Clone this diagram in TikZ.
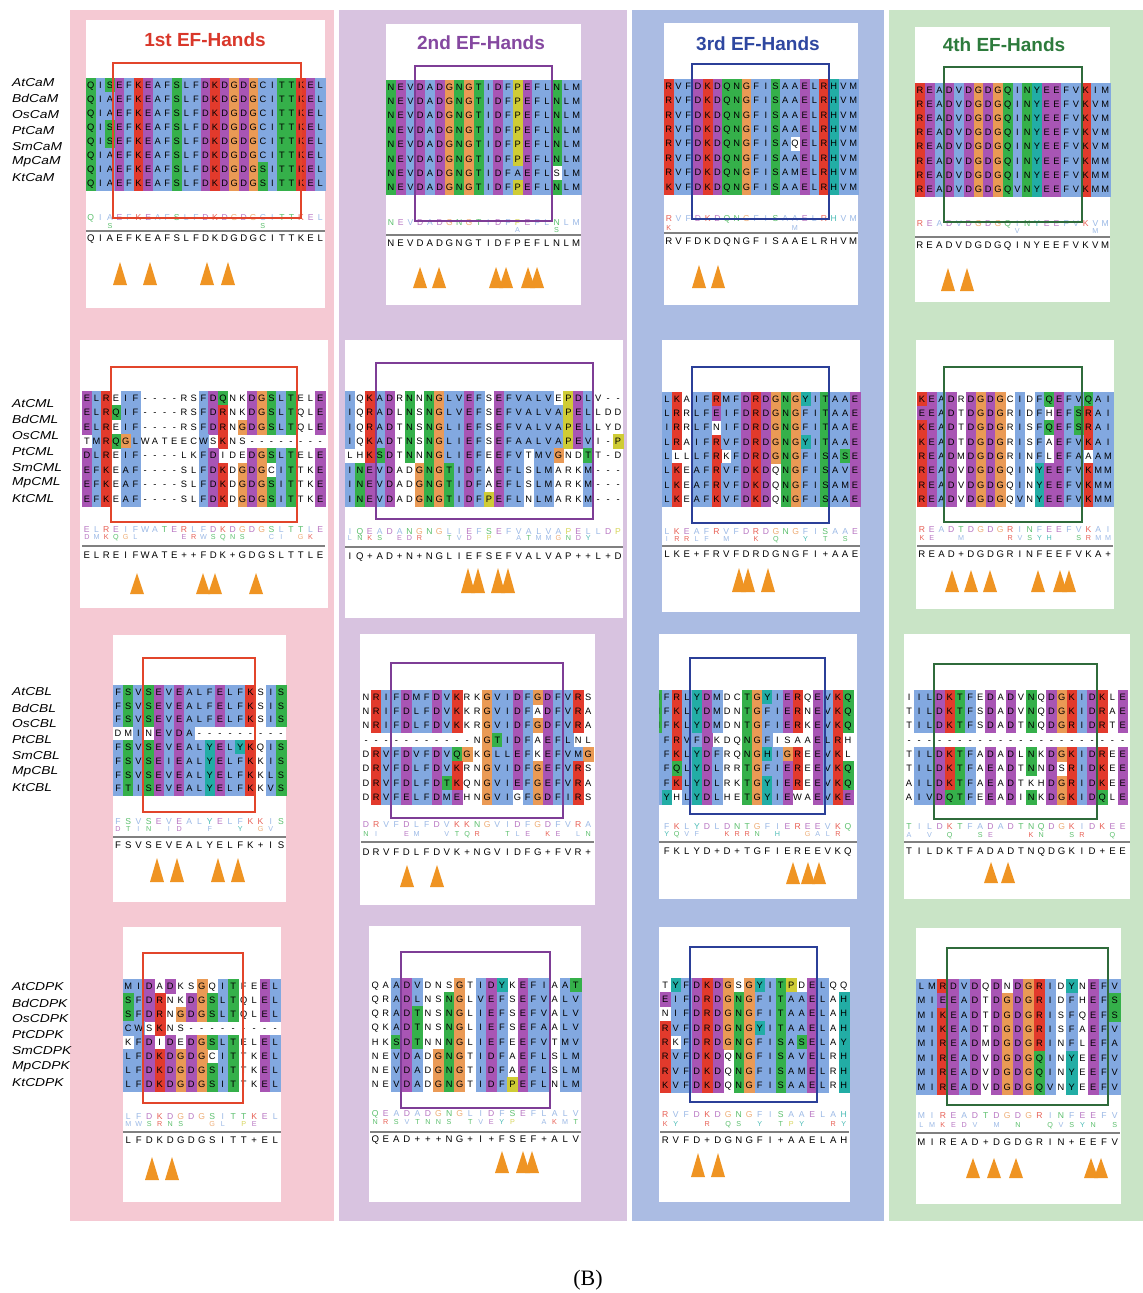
\documentclass[tikz,border=0pt]{standalone}
\usepackage{fontspec}
\setmainfont{Liberation Sans}
\newfontfamily\capfont{Liberation Serif}
\definecolor{cblue}{HTML}{82A8E0}
\definecolor{cred}{HTML}{E23A2C}
\definecolor{cmag}{HTML}{A855B4}
\definecolor{cgreen}{HTML}{35B04A}
\definecolor{corange}{HTML}{EA9A55}
\definecolor{cyellow}{HTML}{CFCC35}
\definecolor{ccyan}{HTML}{22ADA5}
\definecolor{bgpink}{HTML}{F5C9D3}
\definecolor{bgpurple}{HTML}{D8C3E0}
\definecolor{bgblue}{HTML}{ABBCE3}
\definecolor{bggreen}{HTML}{C9E4C6}
\definecolor{fred}{HTML}{E2452B}
\definecolor{fpurple}{HTML}{7E3D96}
\definecolor{fblue}{HTML}{2B3F98}
\definecolor{fgreen}{HTML}{2F6B3B}
\definecolor{tred}{HTML}{D9372A}
\definecolor{tpurple}{HTML}{8548A0}
\definecolor{tblue}{HTML}{2E47A0}
\definecolor{tgreen}{HTML}{2D7B3C}
\definecolor{ctri}{HTML}{EF9423}

\newcount\ci
\def\dotchar{.}
\def\setrc#1#2{\expandafter\def\csname rc#1\endcsname{#2}}
\setrc A{cblue}\setrc I{cblue}\setrc L{cblue}\setrc M{cblue}\setrc F{cblue}
\setrc V{cblue}\setrc W{cblue}\setrc C{cblue}
\setrc K{cred}\setrc R{cred}
\setrc D{cmag}\setrc E{cmag}
\setrc N{cgreen}\setrc Q{cgreen}\setrc S{cgreen}\setrc T{cgreen}
\setrc G{corange}\setrc P{cyellow}\setrc H{ccyan}\setrc Y{ccyan}

\def\seqloop#1{\ifx#1\relax\else\cellaction#1\advance\ci by 1 \expandafter\seqloop\fi}
\def\onecell#1{%
  \ifnum`#1>`Z\relax
    \uppercase{\def\ch{#1}}\let\cf\empty
  \else
    \def\ch{#1}%
    \ifcsname rc#1\endcsname\edef\cf{\csname rc#1\endcsname}\else\let\cf\empty\fi
  \fi
  \ifx\cf\empty\else
    \fill[fill=\cf] ({\sx+\the\ci*\CW},{\sy-0.5*\RH}) rectangle ++({\CW+0.5},{\RH+0.5});%
  \fi
  \node[res] at ({\sx+(\the\ci+0.5)*\CW},{\sy+3.3}) {\ch};%
}
\def\onelogo#1{%
  \ifx#1.\else
    \ifcsname rc#1\endcsname\edef\cf{\csname rc#1\endcsname}\else\def\cf{black}\fi
    \node[inner sep=0pt,anchor=base,text=\cf!80,font=\lfont] at ({\sx+(\the\ci+0.5)*\CW},{\sy+2.8}) {#1};%
  \fi}
\def\onecons#1{%
  \ifx#1.\else
    \node[cons] at ({\sx+(\the\ci+0.5)*\CW},{\sy+3.4}) {#1};%
  \fi}
\newcommand\seqrow[3]{\let\cellaction\onecell\def\sx{#1}\def\sy{#2}\ci=0 \expandafter\seqloop#3\relax}
\newcommand\seqblock[3]{\foreach \s [count=\k from 0] in {#3} {\seqrow{#1}{#2+\k*\RH}{\s}}}
\newcommand\logorow[4]{\let\cellaction\onelogo\def\lfont{#4}\def\sx{#1}\def\sy{#2}\ci=0 \expandafter\seqloop#3\relax}
\newcommand\consrow[3]{\let\cellaction\onecons\def\sx{#1}\def\sy{#2}\ci=0 \expandafter\seqloop#3\relax}
\newcommand\logos[5]{% x0, ytop, top, ybottom, bottom
  \logorow{#1}{#2}{#3}{\fontsize{8.6}{9}\selectfont}%
  \logorow{#1}{#4}{#5}{\fontsize{7.2}{8}\selectfont}}
\newcommand\tri[3]{\fill[ctri] ({#1-7},#3) -- (#1,#2) -- ({#1+7},#3) -- cycle;}

\tikzset{
  res/.style={inner sep=0pt,anchor=base,text=black,font=\fontsize{9.3}{10}\selectfont},
  cons/.style={inner sep=0pt,anchor=base,text=black,font=\fontsize{9.6}{10}\selectfont},
  lab/.style={anchor=west,inner sep=0pt,xscale=1.2,font=\fontsize{11.5}{12}\selectfont\itshape},
  ttl/.style={inner sep=0pt,font=\fontsize{19}{21}\selectfont\bfseries},
  rulel/.style={draw=black!50,line width=1.8pt},
  wbox/.style={fill=white},
  frame/.style={line width=1.6pt},
}

\begin{document}
\begin{tikzpicture}[x=1pt,y=-1pt]
\useasboundingbox (0,0) rectangle (1143,1293);
\fill[white] (0,0) rectangle (1143,1293);
% column backgrounds
\fill[bgpink] (70,10) rectangle (334,1221);
\fill[bgpurple] (339,10) rectangle (627,1221);
\fill[bgblue] (632,10) rectangle (884,1221);
\fill[bggreen] (889,10) rectangle (1143,1221);

% row labels
\foreach \n [count=\k from 0] in {AtCaM,BdCaM,OsCaM,PtCaM,SmCaM,MpCaM,KtCaM}
  \node[lab] (l1\k) at (12,{83+\k*15.8}) {\n};
\foreach \n [count=\k from 0] in {AtCML,BdCML,OsCML,PtCML,SmCML,MpCML,KtCML}
  \node[lab] (l2\k) at (12,{404+\k*15.8}) {\n};
\foreach \n [count=\k from 0] in {AtCBL,BdCBL,OsCBL,PtCBL,SmCBL,MpCBL,KtCBL}
  \node[lab] (l3\k) at (12,{692+\k*16}) {\n};
\foreach \n [count=\k from 0] in {AtCDPK,BdCDPK,OsCDPK,PtCDPK,SmCDPK,MpCDPK,KtCDPK}
  \node[lab] (l4\k) at (12,{987+\k*16}) {\n};

%%%%%%%%%%%%%%%% ROW 1
% R1C1
\fill[wbox] (86,20) rectangle (325,308);
\node[ttl,text=tred] (t1) at (205,40) {1st EF-Hands};
\def\CW{9.56}\def\RH{14.04}
\seqblock{86}{85}{QISEFKEAFSLFDKDGDGCITTKEL,QIAEFKEAFSLFDKDGDGCITTKEL,QIAEFKEAFSLFDKDGDGCITTKEL,QISEFKEAFSLFDKDGDGCITTKEL,QISEFKEAFSLFDKDGDGCITTKEL,QIAEFKEAFSLFDKDGDGCITTKEL,QIAEFKEAFSLFDKDGDGSITTKEL,QIAEFKEAFSLFDKDGDGSITTKEL}
\logos{86}{218}{QIAEFKEAFSLFDKDGDGCITTKEL}{226}{..S...............S......}
\draw[rulel] (86,231) -- (325,231);
\consrow{86}{238}{QIAEFKEAFSLFDKDGDGCITTKEL}
\draw[frame,fred] (113,63) rectangle (301,218);
\tri{120}{262}{285}\tri{150}{262}{285}\tri{207}{262}{285}\tri{228}{262}{285}

% R1C2
\fill[wbox] (386,24) rectangle (581,305);
\node[ttl,text=tpurple] (t2) at (481,43) {2nd EF-Hands};
\def\CW{9.75}\def\RH{14.4}
\seqblock{386}{86.7}{NEVDADGNGTIDFPEFLNLM,NEVDADGNGTIDFPEFLNLM,NEVDADGNGTIDFPEFLNLM,NEVDADGNGTIDFPEFLNLM,NEVDADGNGTIDFPEFLNLM,NEVDADGNGTIDFPEFLNLM,NEVDADGNGTIDFAEFLsLM,NEVDADGNGTIDFPEFLNLM}
\logos{386}{223}{NEVDADGNGTIDFPEFLNLM}{230}{.............A...S..}
\draw[rulel] (386,235) -- (581,235);
\consrow{386}{243}{NEVDADGNGTIDFPEFLNLM}
\draw[frame,fpurple] (415,66) rectangle (552,221);
\tri{420}{267}{288}\tri{439}{267}{288}\tri{496}{267}{288}\tri{506}{267}{288}\tri{528}{267}{288}\tri{537}{267}{288}

% R1C3
\fill[wbox] (664,23) rectangle (858,305);
\node[ttl,text=tblue] (t3) at (758,44) {3rd EF-Hands};
\def\CW{9.7}\def\RH{14.4}
\seqblock{664}{86}{RVFDKDQNGFISAAELRHVM,RVFDKDQNGFISAAELRHVM,RVFDKDQNGFISAAELRHVM,RVFDKDQNGFISAAELRHVM,RVFDKDQNGFISAqELRHVM,RVFDKDQNGFISAAELRHVM,RVFDKDQNGFISAMELRHVM,KVFDKDQNGFISAAELRHVM}
\logos{664}{219}{RVFDKDQNGFISAAELRHVM}{228}{K............M......}
\draw[rulel] (664,233) -- (858,233);
\consrow{664}{241}{RVFDKDQNGFISAAELRHVM}
\draw[frame,fblue] (692,64) rectangle (829,219);
\tri{699}{265}{288}\tri{718}{265}{288}

% R1C4
\fill[wbox] (915,27) rectangle (1110,302);
\node[ttl,text=tgreen] (t4) at (1004,45) {4th EF-Hands};
\def\CW{9.75}\def\RH{14.14}
\seqblock{915}{90}{READVDGDGQINYEEFVKIM,READVDGDGQINYEEFVKVM,READVDGDGQINYEEFVKVM,READVDGDGQINYEEFVKVM,READVDGDGQINYEEFVKVM,READVDGDGQINYEEFVKMM,READVDGDGQINYEEFVKMM,READVDGDGQVNYEEFVKMM}
\logos{915}{224}{READVDGDGQINYEEFVKVM}{231}{..........V.......M.}
\draw[rulel] (915,237) -- (1110,237);
\consrow{915}{245}{READVDGDGQINYEEFVKVM}
\draw[frame,fgreen] (944,67) rectangle (1082,222);
\tri{948}{268}{291}\tri{967}{268}{291}

%%%%%%%%%%%%%%%% ROW 2
% R2C1
\fill[wbox] (80,340) rectangle (328,608);
\def\CW{9.72}\def\RH{14.4}
\seqblock{82}{398}{ELReIF----rsFDQnkDGSLTelE,ELRQIF----rsFDRnkDGSLTqlE,ELReIF----rsFDRnGDGSLTqlE,tMRQGLwateecWsKns--------,DLReIF----lkFDideDGSLTelE,EFKeAF----slFDKdGDGcITtkE,EFKeAF----slFDKdGDGSITtkE,EFKeAF----slFDKdGDGSITtkE}
\logos{82}{530}{ELREIFWATERLFDKDGDGSLTTLE}{537}{DMKQGL....ERWSQNS..CI.GK.}
\draw[rulel] (82,546) -- (325,546);
\consrow{82}{555}{ELREIFWATE++FDK+GDGSLTTLE}
\draw[frame,fred] (111,367) rectangle (297,522);
\tri{137}{573}{594}\tri{203}{573}{594}\tri{215}{573}{594}\tri{256}{573}{594}

% R2C2
\fill[wbox] (345,340) rectangle (623,618);
\def\CW{9.93}\def\RH{14.4}
\seqblock{345}{398}{IqKADrNnNGLVEFsEFVALVePDLv--,IqRADlNsNGLVEFsEFVALVAPELldd,IqRADtNsNGLIEFsEFVALVAPELlyd,IqKADtNsNGLIEFsEFAALVAPEVi-P,lhKSDtNnNGLIEFeEFVtMVGndTt-d,INEVDadGNGTIDFaEFLsLMarkM---,INEVDadGNGTIDFaEFLsLMarkM---,INEVDadGNGTIDFPEFLnLMarkM---}
\logos{345}{532}{IQEADANGNGLIEFSEFVALVAPELLDP}{538}{LNKS.EDR..TVD.P..ATMMGNDY...}
\draw[rulel] (345,547) -- (623,547);
\consrow{345}{556}{IQ+AD+N+NGLIEFSEFVALVAP++L+D}
\draw[frame,fpurple] (376,363) rectangle (593,519);
\tri{468}{568}{593}\tri{478}{568}{593}\tri{498}{568}{593}\tri{508}{568}{593}

% R2C3
\fill[wbox] (662,340) rectangle (860,612);
\def\CW{9.9}\def\RH{14.3}
\seqblock{662}{399}{LKaIFRMFDRDGNGYITAAE,LRrLFEIFDRDGNGFITAAE,IRrLFnIFDRDGNGFITAAE,LRaIFRVFDRDGNGYITAAE,LllLFRkFDRDGNGFISASE,LKeAFRVFDKDqNGFISAVE,LKeAFRVFDKDqNGFISAME,LKeAFKVFDKDqNGFISAAE}
\logos{662}{532}{LKEAFRVFDRDGNGFISAAE}{539}{IRRLF.M..K.Q..Y.T.S.}
\draw[rulel] (662,546) -- (860,546);
\consrow{662}{554}{LKE+FRVFDRDGNGFI+AAE}
\draw[frame,fblue] (692,367) rectangle (829,523);
\tri{739}{568}{592}\tri{748}{568}{592}\tri{768}{568}{592}

% R2C4
\fill[wbox] (916,340) rectangle (1114,609);
\def\CW{9.8}\def\RH{14.3}
\seqblock{917}{399}{KEADrDGDGcIdFQEFVQAI,EEADtDGDGrIdFhEFSRAI,KEADtDGDGrIsFQEFSRAI,KEADtDGDGrIsFaEFVKAI,READmDGDGrInFlEFAaAM,READvDGDGqInYEEFVKMM,READvDGDGqInYEEFVKMM,READvDGDGqVnYEEFVKMM}
\logos{917}{530}{READTDGDGRINFEEFVKAI}{538}{KE..M....RVSYH..SRMM}
\draw[rulel] (917,546) -- (1113,546);
\consrow{917}{554}{READ+DGDGRINFEEFVKA+}
\draw[frame,fgreen] (944,367) rectangle (1082,522);
\tri{952}{570}{592}\tri{971}{570}{592}\tri{990}{570}{592}\tri{1038}{570}{592}\tri{1060}{570}{592}\tri{1069}{570}{592}

%%%%%%%%%%%%%%%% ROW 3
% R3C1
\fill[wbox] (113,635) rectangle (286,902);
\def\CW{10.18}\def\RH{13.8}
\seqblock{113}{692}{FSVSEVEALFELFKsIS,FSVSEVEALFELFKsIS,FSVSEVEALFELFKsIS,dmInEVDA---------,FSVSEVEALYELYKqIS,FSVSEIEALYELFKkIS,FSVSEVEALYELFKkLS,FTISEVEALYELFKkVS}
\logos{113}{822}{FSVSEVEALYELFKKIS}{829}{DTIN.ID..F..Y.GV.}
\draw[rulel] (113,837) -- (286,837);
\consrow{113}{845}{FSVSEVEALYELFK+IS}
\draw[frame,fred] (143,658) rectangle (255,812);
\tri{157}{858}{882}\tri{177}{858}{882}\tri{218}{858}{882}\tri{238}{858}{882}

% R3C2
\fill[wbox] (360,634) rectangle (595,905);
\def\CW{10.1}\def\RH{14.3}
\seqblock{361}{697}{nRIFDMFDVKrkGVIDFGDFVRs,nRIFDLFDVKkrGVIDFaDFVRa,nRIFDLFDVKkrGVIDFGDFVRa,-----------nGTIDFaEFLnl,dRVFDVFDVQGkGLLEFkEFVMG,dRVFDLFDVKrnGVIDFGEFVRs,dRVFDLFDTKqnGVIEFGEFVRa,dRVFELFDMEhnGVIgFGDFIRs}
\logos{361}{825}{DRVFDLFDVKKNGVIDFGDFVRA}{834}{NI..EM..VTQR..TLE.KE.LN}
\draw[rulel] (361,842) -- (594,842);
\consrow{361}{852}{DRVFDLFDVK+NGVIDFG+FVR+}
\draw[frame,fpurple] (391,663) rectangle (563,818);
\tri{407}{865}{887}\tri{437}{865}{887}

% R3C3
\fill[wbox] (659,634) rectangle (857,899);
\begin{scope}
\clip (659,634) rectangle (857,899);
\def\CW{10.07}\def\RH{14.3}
\seqblock{651.6}{697}{NFRLYDMdcTGYIERqEVKQ,NFKLYDMdnTGFIERnEVKQ,NFKLYDMdnTGFIERkEVKQ,LFRVFDkdqNGFisaaELRh,LFKLYDFrqNGHIGReEVKl,LFQLYDLrrTGFIEReEVKQ,LFKLYDLrkTGYIEReEVKQ,LYhLYDLheTGYIEwaEVKE}
\logos{651.6}{827}{.FKLYDLDNTGFIEREEVKQ}{834}{.YQVF..KRRN.H..GALR.}
\draw[rulel] (659,842) -- (857,842);
\consrow{651.6}{851}{.FKLYD+D+TGFIEREEVKQ}
\end{scope}
\draw[frame,fblue] (690,658) rectangle (825,814);
\tri{793}{862}{884}\tri{808}{862}{884}\tri{819}{862}{884}

% R3C4
\fill[wbox] (904,634) rectangle (1130,899);
\def\CW{10.17}\def\RH{14.3}
\seqblock{904}{697}{iILDKTFeDaDvNqDGKIDKlE,tILDKTFsDaDvNqDGKIDRaE,tILDKTFsDaDtNqDGRIDRtE,----------------------,tILDKTFaDaDlNkDGKIDReE,tILDKTFaEaDtNnDsRIDKeE,aILDKTFaEaDtkhDGRIDKeE,aIVDQTFeEaDiNkDGKIDQlE}
\logos{904}{827}{TILDKTFADADTNQDGKIDKEE}{835}{A.V.Q..SE...KN..SR..Q.}
\draw[rulel] (904,842) -- (1130,842);
\consrow{904}{851}{TILDKTFADADTNQDGKID+EE}
\draw[frame,fgreen] (934,664) rectangle (1097,819);
\tri{991}{862}{883}\tri{1008}{862}{883}

%%%%%%%%%%%%%%%% ROW 4
% R4C1
\fill[wbox] (123,927) rectangle (281,1202);
\def\CW{10.5}\def\RH{14.05}
\seqblock{123}{986}{MIDaDksGqITfeEL,SFDRnkDGSLTqlEL,SFDRnGDGSLTqlEL,CWsKns---------,kFDiDeDGSLTelEL,LFDKDGDGcITtkEL,LFDKDGDGSITtkEL,LFDKDGDGSITtkEL}
\logos{123}{1117}{LFDKDGDGSITTKEL}{1124}{MWSRNS..GL.PE..}
\draw[rulel] (123,1132) -- (281,1132);
\consrow{123}{1140}{LFDKDGDGSITT+EL}
\draw[frame,fred] (143,953) rectangle (243,1103);
\tri{152}{1157}{1180}\tri{172}{1157}{1180}

% R4C2
\fill[wbox] (369,926) rectangle (581,1202);
\def\CW{10.55}\def\RH{14.2}
\seqblock{370}{985}{qaADVdnsGtIDYkEFIaAT,qrADLnsNGlVEFsEFVaLV,qrADTnsNGlIEFsEFVaLV,qkADTnsNGlIEFsEFAaLV,hkSDTnnNGlIEFeEFVtMV,neVDAdGNGtIDFaEFLsLM,neVDAdGNGtIDFaEFLsLM,neVDAdGNGtIDFPEFLnLM}
\logos{370}{1114}{QEADADGNGLIDFSEFLALV}{1122}{NRSVTNNS.TVEYP..AKMT}
\draw[rulel] (370,1132) -- (581,1132);
\consrow{370}{1139}{QEAD+++NG+I+FSEF+ALV}
\draw[frame,fpurple] (401,952) rectangle (550,1108);
\tri{502}{1151}{1173}\tri{523}{1151}{1173}\tri{532}{1151}{1173}

% R4C3
\fill[wbox] (659,927) rectangle (850,1202);
\def\CW{10.5}\def\RH{14.3}
\seqblock{660}{985}{tYFDKDGsGYITPdELqq,EIFDRDGNGFITAAELaH,nIFDRDGNGFITAAELaH,RVFDRDGNGYITAAELaH,RkFDRDGNGFISASELaY,RVFDKDqNGFISAVELrH,RVFDKDqNGFISAMELrH,KVFDKDqNGFISAAELrH}
\logos{660}{1115}{RVFDKDGNGFISAAELAH}{1124}{KY..R.QS.Y.TPY..RY}
\draw[rulel] (660,1132) -- (849,1132);
\consrow{660}{1140}{RVFD+DGNGFI+AAELAH}
\draw[frame,fblue] (690,947) rectangle (817,1102);
\tri{698}{1153}{1177}\tri{718}{1153}{1177}

% R4C4
\fill[wbox] (916,928) rectangle (1121,1204);
\def\CW{10.74}\def\RH{14.4}
\seqblock{916}{986}{LMRDVDqDnDGRIdYnEFV,MIEEADtDGDGRIdFhEFS,MIKEADtDGDGRIsFqEFS,MIKEADtDGDGRIsFaEFV,MIREADmDGDGRInFlEFA,MIREADvDGDGQInYeEFV,MIREADvDGDGQInYeEFV,MIREADvDGDGQVnYeEFV}
\logos{916}{1116}{MIREADTDGDGRINFEEFV}{1125}{LMKEDV.M.N..QVSYN.S}
\draw[rulel] (916,1133) -- (1120,1133);
\consrow{916}{1142}{MIREAD+DGDGRIN+EEFV}
\draw[frame,fgreen] (947,948) rectangle (1108,1105);
\tri{973}{1158}{1178}\tri{994}{1158}{1178}\tri{1016}{1158}{1178}\tri{1091}{1158}{1178}\tri{1101}{1158}{1178}

% caption
\node[inner sep=0pt,font=\capfont\fontsize{22}{24}\selectfont] (cap) at (588,1280) {(B)};
\end{tikzpicture}
\end{document}
